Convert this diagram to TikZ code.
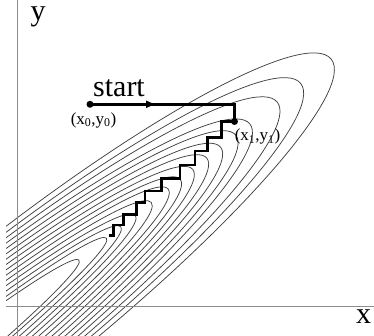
\documentclass[tikz,border=0pt]{standalone}
\usepackage{fontspec}
\setmainfont{Liberation Serif}
\usetikzlibrary{arrows.meta}
\begin{document}
\begin{tikzpicture}[x=1pt,y=1pt,
  contour/.style={draw=black!75, line width=0.75pt},
  axisline/.style={draw=black!45, line width=1.3pt},
  descent/.style={draw=black, line width=2.6pt, line join=miter},
  ptdot/.style={circle, fill=black, inner sep=0pt, minimum size=7pt},
  lbl/.style={font=\fontsize{17}{17}\selectfont, inner sep=0pt},
  biglbl/.style={font=\fontsize{30}{30}\selectfont, inner sep=0pt}]
\useasboundingbox (0,0) rectangle (374,336);
% contours: nested elongated ellipses sharing a far vertex
\begin{scope}
  \clip (6,0) rectangle (374,336);
  \begin{scope}[shift={(157.6,138.5)}, rotate=38.55]
    \foreach \t/\w in {-100.5/10, -65.4/14.4, -47/18.8, -28.4/23.2, -8/27.6,
                       13.5/32, 29/36.4, 45/40.8, 63/45.2, 80.6/49.6,
                       100/54, 118/58.4, 153/62.8, 183/67.2, 222/72}{
      \pgfmathsetmacro\ra{(\t+600)/2}
      \pgfmathsetmacro\cc{(\t-600)/2}
      \pgfmathsetmacro\ss{sqrt(1-((-140-\cc)/\ra)^2)}
      \pgfmathsetmacro\rb{\w/\ss}
      \draw[contour] (\cc,0) ellipse [x radius=\ra pt, y radius=\rb pt];
    }
  \end{scope}
\end{scope}
% axes
\coordinate (ytop) at (17.3,336);
\coordinate (ybot) at (17.3,0);
\coordinate (xleft) at (6,29.5);
\coordinate (xright) at (374,29.5);
\draw[axisline] (ybot) -- (ytop);
\draw[axisline] (xleft) -- (xright);
\node[biglbl, anchor=base] (ylab) at (38,315) {y};
\node[biglbl] (xlab) at (363.5,19) {x};
% descent path
\node[ptdot] (p0) at (90,231.7) {};
\coordinate (p1) at (234.5,231.7);
\node[ptdot] (p2) at (234.5,214.5) {};
\coordinate (arrowtip) at (157,231.7);
\draw[descent] (p0.center) -- (p1) -- (p2.center);
\draw[descent, -{Latex[length=11pt,width=8pt]}] (p0.center) -- (arrowtip);
\coordinate (send) at (109.3,100.3);
\draw[descent] (p2.center) -- (221.7,214.5) -- (221.7,198.3) -- (207.3,198.3)
  -- (207.3,185) -- (195,185) -- (195,171) -- (180,171) -- (180,157.7)
  -- (161.7,157.7) -- (161.7,145) -- (145,145) -- (145,133.7) -- (136.7,133.7)
  -- (136.7,121.7) -- (123.3,121.7) -- (123.3,111) -- (113.3,111) -- (113.3,100.3)
  -- (send);
% labels
\node[biglbl, anchor=base] (startlab) at (119,239) {start};
\node[lbl] (l0) at (93.5,216) {(x\textsubscript{0},y\textsubscript{0})};
\node[lbl] (l1) at (257.5,199.3) {(x\textsubscript{1},y\textsubscript{1})};
\end{tikzpicture}
\end{document}
